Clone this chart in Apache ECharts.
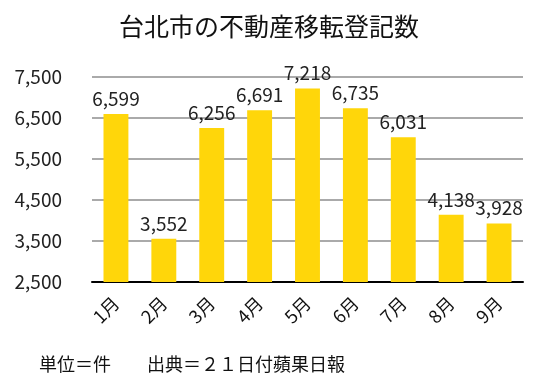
<!DOCTYPE html>
<html><head><meta charset="utf-8">
<script src="https://cdn.jsdelivr.net/npm/echarts@6/dist/echarts.min.js"></script>
<style>html,body{margin:0;padding:0;background:#fff}#c{width:538px;height:387px}</style>
</head><body><div id="c"></div>
<script>
const categories = ['1月','2月','3月','4月','5月','6月','7月','8月','9月'];
const values = [6599, 3552, 6256, 6691, 7218, 6735, 6031, 4138, 3928];
const titleText = '台北市の不動産移転登記数';
const footerText = '単位＝件　　出典＝２１日付蘋果日報';
const F = '"Noto Sans CJK JP", "Noto Sans", sans-serif';
const chart = echarts.init(document.getElementById('c'));
chart.setOption({
  animation: false,
  textStyle: {fontFamily: F},
  title: [{text: titleText, left: 'center', top: 9, textStyle: {fontFamily: F, fontSize: 25, fontWeight: 'normal', color: '#111'}},
          {text: footerText, left: 34, top: 350, textStyle: {fontFamily: F, fontSize: 18, fontWeight: 'normal', color: '#111'}}],
  grid: {left: 92, right: 15, top: 77, bottom: 105},
  xAxis: {type: 'category', data: categories,
    axisLine: {lineStyle: {color: '#000', width: 2}}, axisTick: {show: false},
    axisLabel: {rotate: 45, fontSize: 18, color: '#111', margin: 18, fontFamily: F}},
  yAxis: {type: 'value', min: 2500, max: 7500, interval: 1000,
    axisLine: {show: false}, axisTick: {show: false},
    splitLine: {lineStyle: {color: '#aaa', width: 2}},
    axisLabel: {fontSize: 19, color: '#222', margin: 30, fontFamily: F,
      formatter: v => v.toLocaleString('en-US')}},
  series: [{type: 'bar', data: values, barWidth: '52%', itemStyle: {color: '#FFD60A'},
    label: {show: true, position: 'top', distance: 6, fontSize: 19, color: '#222', fontFamily: F,
      formatter: p => p.value.toLocaleString('en-US')}}]
});
</script></body></html>
